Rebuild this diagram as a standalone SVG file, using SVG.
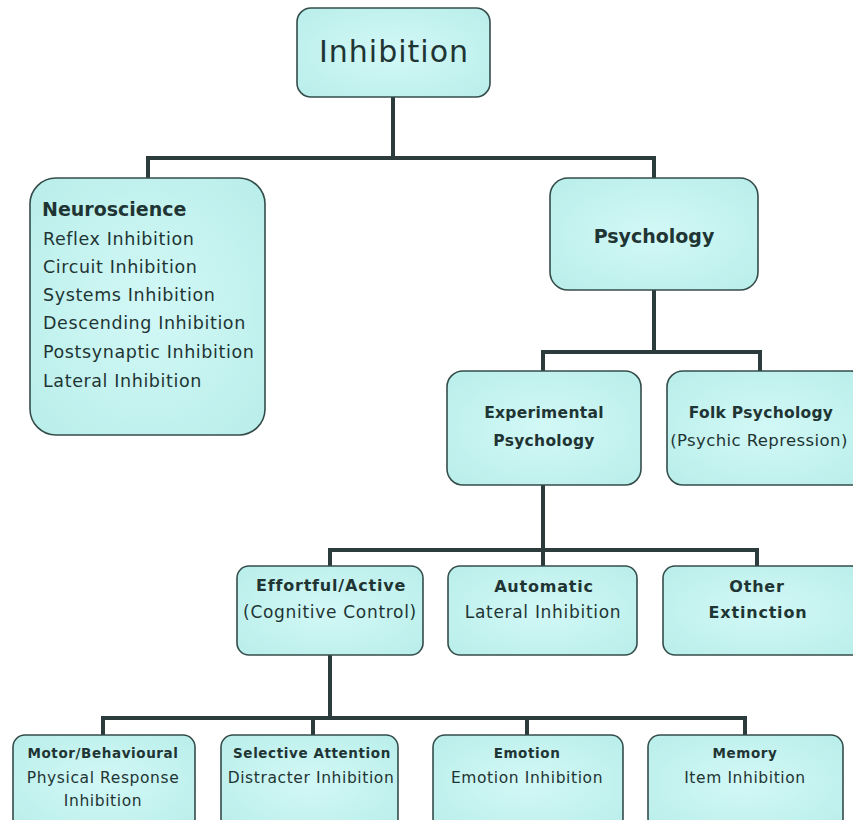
<svg xmlns="http://www.w3.org/2000/svg" width="853" height="820" viewBox="0 0 853 820">
  <defs>
    <radialGradient id="boxFill" cx="50%" cy="50%" r="70%">
      <stop offset="0%" stop-color="#d2f8f6"/>
      <stop offset="100%" stop-color="#b9eeea"/>
    </radialGradient>
  </defs>
  <style>
    .box { fill: url(#boxFill); stroke: #344d4b; stroke-width: 1.6; }
    .wire { fill: none; stroke: #2c3b3b; stroke-width: 4; stroke-linecap: square; }
    text { font-family: "DejaVu Sans", "Liberation Sans", sans-serif; fill: #1f3534; }
    .c { text-anchor: middle; }
    .b { font-weight: bold; }
    .list { font-size: 17.5px; letter-spacing: 0.6px; }
    .mid { font-size: 17px; letter-spacing: 0.7px; }
    .midb { font-size: 16px; letter-spacing: 0.8px; font-weight: bold; }
    .low { font-size: 15.5px; letter-spacing: 0.6px; }
    .lowb { font-size: 13.5px; letter-spacing: 0.6px; font-weight: bold; }
  </style>
  <rect width="853" height="820" fill="#ffffff"/>

  <g id="connectors">
    <path class="wire" d="M393 97 V158 M148 158 H654 M148 158 V178 M654 158 V178"/>
    <path class="wire" d="M654 290 V352 M543 352 H760 M543 352 V371 M760 352 V371"/>
    <path class="wire" d="M543 485 V550 M330 550 H757 M330 550 V566 M543 550 V566 M757 550 V566"/>
    <path class="wire" d="M330 655 V718 M103 718 H745 M103 718 V735 M313 718 V735 M527 718 V735 M745 718 V735"/>
  </g>

  <g id="inhibition">
    <rect class="box" x="297" y="8" width="193" height="89" rx="14"/>
    <text class="c" x="394" y="62" font-size="30" letter-spacing="1">Inhibition</text>
  </g>

  <g id="neuroscience">
    <rect class="box" x="30" y="178" width="235" height="257" rx="26"/>
    <text class="b" x="42" y="216" font-size="19">Neuroscience</text>
    <text class="list" x="43" y="245">Reflex Inhibition</text>
    <text class="list" x="43" y="273">Circuit Inhibition</text>
    <text class="list" x="43" y="301">Systems Inhibition</text>
    <text class="list" x="43" y="329">Descending Inhibition</text>
    <text class="list" x="43" y="358">Postsynaptic Inhibition</text>
    <text class="list" x="43" y="387">Lateral Inhibition</text>
  </g>

  <g id="psychology">
    <rect class="box" x="550" y="178" width="208" height="112" rx="18"/>
    <text class="c b" x="654" y="243" font-size="19">Psychology</text>
  </g>

  <g id="experimental-psychology">
    <rect class="box" x="447" y="371" width="194" height="114" rx="16"/>
    <text class="c b" x="544" y="418" font-size="15.5" letter-spacing="0.3">Experimental</text>
    <text class="c b" x="544" y="446" font-size="15.5" letter-spacing="0.3">Psychology</text>
  </g>

  <g id="folk-psychology">
    <rect class="box" x="667" y="371" width="200" height="114" rx="16"/>
    <text class="c b" x="761" y="418" font-size="15.5" letter-spacing="0.3">Folk Psychology</text>
    <text class="c" x="759" y="446" font-size="16.5" letter-spacing="0.4">(Psychic Repression)</text>
  </g>

  <g id="effortful-active">
    <rect class="box" x="237" y="566" width="186" height="89" rx="12"/>
    <text class="c midb" x="331" y="591">Effortful/Active</text>
    <text class="c mid" x="330" y="618">(Cognitive Control)</text>
  </g>

  <g id="automatic">
    <rect class="box" x="448" y="566" width="189" height="89" rx="12"/>
    <text class="c midb" x="544" y="592">Automatic</text>
    <text class="c mid" x="543" y="618">Lateral Inhibition</text>
  </g>

  <g id="other">
    <rect class="box" x="663" y="566" width="200" height="89" rx="12"/>
    <text class="c midb" x="757" y="592">Other</text>
    <text class="c midb" x="758" y="618">Extinction</text>
  </g>

  <g id="motor-behavioural">
    <rect class="box" x="13" y="735" width="182" height="95" rx="12"/>
    <text class="c lowb" x="103" y="758">Motor/Behavioural</text>
    <text class="c low" x="103" y="783">Physical Response</text>
    <text class="c low" x="103" y="806">Inhibition</text>
  </g>

  <g id="selective-attention">
    <rect class="box" x="221" y="735" width="177" height="95" rx="12"/>
    <text class="c lowb" x="312" y="758">Selective Attention</text>
    <text class="c low" x="311" y="783" letter-spacing="0.3">Distracter Inhibition</text>
  </g>

  <g id="emotion">
    <rect class="box" x="433" y="735" width="190" height="95" rx="12"/>
    <text class="c lowb" x="527" y="758">Emotion</text>
    <text class="c low" x="527" y="783">Emotion Inhibition</text>
  </g>

  <g id="memory">
    <rect class="box" x="648" y="735" width="195" height="95" rx="12"/>
    <text class="c lowb" x="745" y="758">Memory</text>
    <text class="c low" x="745" y="783">Item Inhibition</text>
  </g>
</svg>
